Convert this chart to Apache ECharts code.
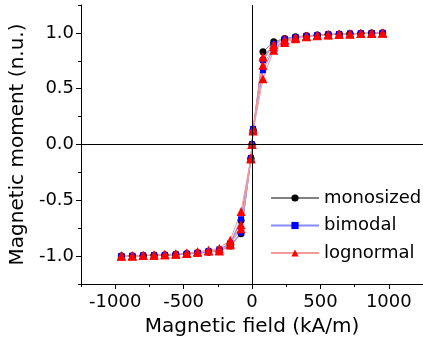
<!DOCTYPE html>
<html>
<head>
<meta charset="utf-8">
<script src="https://cdn.jsdelivr.net/npm/echarts@6/dist/echarts.min.js"></script>
<style>
  html, body { margin: 0; padding: 0; background: #fff; }
  #demo { width: 423px; height: 343px; }
</style>
</head>
<body>
<div id="demo"></div>
<script>
// applied field (kA/m)
const field = [-955, -875, -796, -716, -637, -557, -477, -398, -318, -239, -159, -80, -8, 0, 8, 80, 159, 239, 318, 398, 477, 557, 637, 716, 796, 875, 955]

// normalised moment, two branches per distribution
const mono1 = [-1.0, -0.998, -0.996, -0.993, -0.99, -0.986, -0.98, -0.972, -0.96, -0.945, -0.89, -0.68, -0.125, 0, 0.13, 0.83, 0.92, 0.95, 0.965, 0.975, 0.982, 0.987, 0.99, 0.993, 0.996, 0.998, 1.0]
const mono2 = [-1.0, -0.998, -0.996, -0.994, -0.991, -0.988, -0.982, -0.975, -0.965, -0.955, -0.91, -0.80, -0.13, 0, 0.12, 0.76, 0.9, 0.94, 0.96, 0.972, 0.98, 0.985, 0.989, 0.992, 0.995, 0.997, 1.0]
const bimodal1 = [-1.0, -0.998, -0.995, -0.992, -0.989, -0.985, -0.978, -0.968, -0.955, -0.94, -0.885, -0.67, -0.12, 0, 0.14, 0.755, 0.9, 0.945, 0.962, 0.973, 0.98, 0.986, 0.99, 0.993, 0.995, 0.998, 1.0]
const bimodal2 = [-1.0, -0.998, -0.996, -0.993, -0.99, -0.987, -0.981, -0.973, -0.962, -0.955, -0.905, -0.79, -0.13, 0, 0.12, 0.665, 0.86, 0.925, 0.952, 0.967, 0.977, 0.983, 0.988, 0.992, 0.995, 0.997, 1.0]
const logn1 = [-1.0, -0.997, -0.994, -0.99, -0.986, -0.98, -0.972, -0.96, -0.948, -0.93, -0.857, -0.60, -0.12, 0, 0.14, 0.785, 0.895, 0.94, 0.96, 0.972, 0.98, 0.985, 0.989, 0.992, 0.995, 0.997, 1.0]
const logn2 = [-1.0, -0.998, -0.995, -0.992, -0.988, -0.983, -0.976, -0.966, -0.955, -0.95, -0.89, -0.755, -0.13, 0, 0.13, 0.71, 0.875, 0.93, 0.955, 0.968, 0.977, 0.983, 0.988, 0.991, 0.994, 0.997, 1.0]
const logn3 = [-1.0, -0.998, -0.995, -0.991, -0.987, -0.982, -0.974, -0.964, -0.952, -0.955, -0.9, -0.72, -0.125, 0, 0.12, 0.59, 0.845, 0.915, 0.948, 0.965, 0.975, 0.982, 0.987, 0.991, 0.994, 0.997, 1.0]

const xMajor = [-1000, -500, 0, 500, 1000]
const xMinor = [-1250, -750, -250, 250, 750, 1250]
const yMajor = [-1.0, -0.5, 0.0, 0.5, 1.0]
const yMinor = [-1.25, -0.75, -0.25, 0.25, 0.75, 1.25]

const font = 'DejaVu Sans'

function pairs (ys) {
  return field.map(function (x, i) { return [x, ys[i]] })
}

function makeSeries (name, ys, color, lineColor, symbol, size) {
  return {
    name: name,
    type: 'line',
    data: pairs(ys),
    symbol: symbol,
    symbolSize: size,
    itemStyle: { color: color },
    lineStyle: { color: lineColor, width: 1 },
    emphasis: { disabled: true },
    animation: false
  }
}

const chart = echarts.init(document.getElementById('demo'))

const series = [
  makeSeries('monosized', mono1, '#000', '#808080', 'circle', 7),
  makeSeries('monosized', mono2, '#000', '#808080', 'circle', 7),
  makeSeries('bimodal', bimodal1, '#0000ff', '#8a8aff', 'rect', 6),
  makeSeries('bimodal', bimodal2, '#0000ff', '#8a8aff', 'rect', 6),
  makeSeries('lognormal', logn1, '#ff0000', '#f39a9a', 'triangle', 9),
  makeSeries('lognormal', logn2, '#ff0000', '#f39a9a', 'triangle', 9),
  makeSeries('lognormal', logn3, '#ff0000', '#f39a9a', 'triangle', 9)
]

// zero lines through the origin
series[0].markLine = {
  silent: true,
  symbol: 'none',
  label: { show: false },
  lineStyle: { color: '#000', width: 1, type: 'solid' },
  data: [{ xAxis: 0 }, { yAxis: 0 }]
}

const option = {
  animation: false,
  grid: { left: 79, top: 5, right: -4, bottom: 59 },
  legend: {
    orient: 'vertical',
    left: 270,
    top: 188,
    padding: 0,
    itemWidth: 48,
    itemHeight: 9,
    itemGap: 7.5,
    data: ['monosized', 'bimodal', 'lognormal'],
    textStyle: { fontFamily: font, fontSize: 18, color: '#000', lineHeight: 20 }
  },
  xAxis: [{
    type: 'value',
    min: -1250,
    max: 1250,
    name: 'Magnetic field (kA/m)',
    nameLocation: 'middle',
    nameGap: 33,
    nameTextStyle: { fontFamily: font, fontSize: 20, color: '#000' },
    axisLine: { onZero: false, lineStyle: { color: '#000', width: 1 } },
    axisTick: { customValues: xMajor, length: 5, inside: false, lineStyle: { color: '#000' } },
    axisLabel: {
      customValues: xMajor,
      margin: 9,
      fontFamily: font,
      fontSize: 18,
      color: '#000',
      formatter: function (v) { return String(v) }
    },
    splitLine: { show: false }
  }, {
    type: 'value',
    min: -1250,
    max: 1250,
    position: 'bottom',
    axisLine: { show: false, onZero: false },
    axisTick: { customValues: xMinor, length: 3, lineStyle: { color: '#000' } },
    axisLabel: { show: false },
    splitLine: { show: false }
  }],
  yAxis: [{
    type: 'value',
    min: -1.25,
    max: 1.25,
    name: 'Magnetic moment (n.u.)',
    nameLocation: 'middle',
    nameGap: 39,
    nameTextStyle: { fontFamily: font, fontSize: 20, color: '#000' },
    axisLine: { show: true, onZero: false, lineStyle: { color: '#000', width: 1 } },
    axisTick: { show: true, customValues: yMajor, length: 5, lineStyle: { color: '#000' } },
    axisLabel: {
      customValues: yMajor,
      margin: 7,
      fontFamily: font,
      fontSize: 18,
      color: '#000',
      formatter: function (v) { return v.toFixed(1) }
    },
    splitLine: { show: false }
  }, {
    type: 'value',
    min: -1.25,
    max: 1.25,
    position: 'left',
    axisLine: { show: false, onZero: false },
    axisTick: { show: true, customValues: yMinor, length: 3, lineStyle: { color: '#000' } },
    axisLabel: { show: false },
    splitLine: { show: false }
  }],
  series: series
}

chart.setOption(option)
</script>
</body>
</html>
